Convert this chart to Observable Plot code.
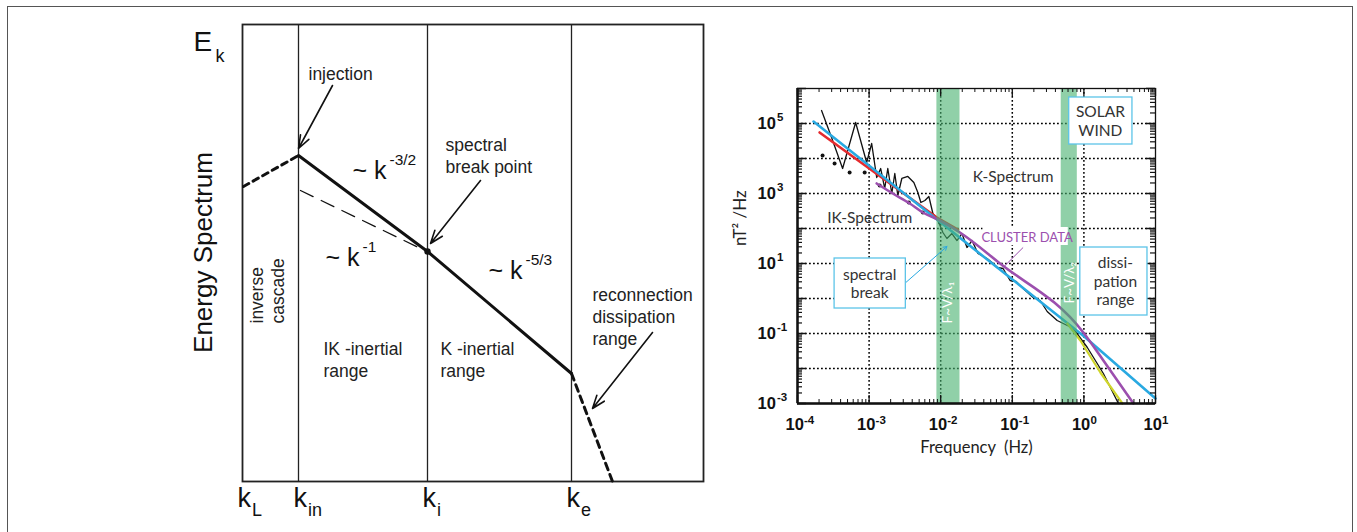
<!DOCTYPE html>
<html><head><meta charset="utf-8">
<script src="https://cdn.jsdelivr.net/npm/d3@7"></script>
<script src="https://cdn.jsdelivr.net/npm/@observablehq/plot@0.6"></script>
<style>
body{margin:0;background:#fff;}
#wrap{position:relative;width:1357px;height:532px;overflow:hidden;background:#fff;}
#border{position:absolute;left:7px;top:6px;width:1346px;height:600px;border:1.5px solid #555;box-sizing:border-box;}
#left{position:absolute;left:0;top:0;}
#right{position:absolute;left:720px;top:0;}
</style></head><body>
<div id="wrap"><div id="border"></div><div id="left"></div><div id="right"></div></div>
<script>
// ---------------- LEFT PANEL (schematic, log k / log E arbitrary units) ----------------
const kLabels = ["L", "in", "i", "e"];
const kPos = [0, 5.6, 18.5, 32.9];
const spectrum = [{k: 5.6, E: 32.6}, {k: 18.5, E: 23.0}, {k: 32.9, E: 10.8}];
const inverseCascade = [{k: 0.1, E: 29.5}, {k: 5.6, E: 32.6}];
const kMinus1 = [{k: 5.8, E: 29.1}, {k: 17.6, E: 23.4}];
const dissipation = [{k: 32.9, E: 10.8}, {k: 37.0, E: 0}];
const breakPoint = [{k: 18.5, E: 23.0}];
const leftLabels = [
  {k: 6.6, E: 40.9, text: "injection"},
  {k: 20.3, E: 32.7, text: "spectral\nbreak point"},
  {k: 8.1, E: 12.25, text: "IK -inertial\nrange"},
  {k: 19.8, E: 12.25, text: "K -inertial\nrange"},
  {k: 35.0, E: 16.6, text: "reconnection\ndissipation\nrange"}
];
const rotLabels = [{k: 1.5, E: 15.8, text: "inverse"}, {k: 3.6, E: 15.8, text: "cascade"}];
const slopeLabels = [
  {k: 11.0, E: 31.1, sup: "-3/2"},
  {k: 8.3, E: 22.4, sup: "-1"},
  {k: 24.6, E: 21.1, sup: "-5/3"}
];
const leftArrows = [
  {k1: 9.0, E1: 39.6, k2: 5.6, E2: 33.3},
  {k1: 23.8, E1: 30.1, k2: 18.8, E2: 23.8},
  {k1: 41.0, E1: 14.9, k2: 35.0, E2: 7.3}
];

const FL = "'Liberation Sans', Arial, Helvetica, sans-serif";
const left = Plot.plot({
  width: 720, height: 532,
  marginLeft: 242, marginTop: 24, marginRight: 17, marginBottom: 51,
  x: {domain: [0, 46.1], axis: null},
  y: {domain: [0, 45.7], axis: null},
  style: {fontFamily: FL, background: "transparent", color: "#222"},
  marks: [
    Plot.ruleX(kPos.slice(1), {stroke: "#222", strokeWidth: 1.3}),
    Plot.frame({stroke: "#222", strokeWidth: 1.8}),
    Plot.line(inverseCascade, {x: "k", y: "E", stroke: "#111", strokeWidth: 3, strokeDasharray: "6,5"}),
    Plot.line(kMinus1, {x: "k", y: "E", stroke: "#111", strokeWidth: 1.3, strokeDasharray: "14,9"}),
    Plot.line(spectrum, {x: "k", y: "E", stroke: "#111", strokeWidth: 3}),
    Plot.line(dissipation, {x: "k", y: "E", stroke: "#111", strokeWidth: 3, strokeDasharray: "7,5"}),
    Plot.dot(breakPoint, {x: "k", y: "E", r: 3.2, fill: "#111"}),
    Plot.arrow(leftArrows, {x1: "k1", y1: "E1", x2: "k2", y2: "E2", stroke: "#111", strokeWidth: 1.6, headLength: 13, headAngle: 40}),
    Plot.text(leftLabels, {x: "k", y: "E", text: "text", textAnchor: "start", fontSize: 17.5, lineHeight: 1.257, fill: "#222"}),
    Plot.text(rotLabels, {x: "k", y: "E", text: "text", textAnchor: "start", rotate: -90, fontSize: 17.5, fill: "#222"}),
    Plot.text(slopeLabels, {x: "k", y: "E", text: () => "~ k", textAnchor: "start", fontSize: 25, fill: "#111"}),
    Plot.text(slopeLabels, {x: "k", y: "E", text: "sup", textAnchor: "start", dx: 37, dy: -10, fontSize: 15.5, fill: "#111"}),
    // axis-like labels
    Plot.text(kPos, {x: d => d, frameAnchor: "bottom", dy: 25, dx: -5, text: () => "k", textAnchor: "start", fontSize: 27, fill: "#111"}),
    Plot.text(kLabels, {x: (d, i) => kPos[i], frameAnchor: "bottom", dy: 34, dx: 9.5, text: d => d, textAnchor: "start", fontSize: 18, fill: "#111"}),
    Plot.text(["E"], {x: -4.9, y: 43.9, text: d => d, textAnchor: "start", fontSize: 28, fill: "#111"}),
    Plot.text(["k"], {x: -2.7, y: 42.5, text: d => d, textAnchor: "start", fontSize: 18, fill: "#111"}),
    Plot.text(["Energy Spectrum"], {x: -3.9, y: 22.9, text: d => d, rotate: -90, fontSize: 26, fill: "#111"})
  ]
});
document.getElementById("left").appendChild(left);

// ---------------- RIGHT PANEL (log-log spectrum) ----------------
const xDecades = [-4, -3, -2, -1, 0, 1];
const yLabelExps = [5, 3, 1, -1, -3];
const xGrid = [1e-3, 1e-2, 1e-1, 1];
const yGrid = [1e-2, 1e-1, 1, 1e1, 1e2, 1e3, 1e4, 1e5];
const minorMult = [2, 3, 4, 5, 6, 7, 8, 9];

// curves: [log10 f, log10 P]
const blueFit = [[-3.776, 5.057], [-2.0, 2.17], [0.0, -1.08], [1.0, -2.857]];
const redFit = [[-3.692, 4.743], [-2.053, 2.314], [-1.759, 1.971]];
const clusterFit = [[-2.894, 3.286], [-2.669, 3.0], [-2.431, 2.714], [-2.249, 2.457], [-2.011, 2.229],
  [-1.731, 1.886], [-1.171, 1.0], [-0.008, -0.971], [0.272, -1.771], [0.692, -3.0]];
const dissipFit = [[-0.232, -0.714], [-0.05, -1.2], [0.23, -2.114], [0.538, -3.0]];
const spectrumData = [[-3.664, 5.371], [-3.524, 4.6], [-3.370, 3.714], [-3.188, 5.029], [-3.034, 3.886],
  [-2.964, 4.429], [-2.894, 3.457], [-2.838, 3.714], [-2.782, 3.143], [-2.739, 3.714], [-2.683, 3.0],
  [-2.641, 3.571], [-2.599, 2.943], [-2.543, 3.429], [-2.459, 3.486], [-2.375, 3.314], [-2.319, 3.029],
  [-2.277, 2.743], [-2.221, 2.8], [-2.165, 2.914], [-2.109, 2.429], [-2.039, 2.229], [-1.969, 1.886],
  [-1.913, 1.714], [-1.843, 1.857], [-1.773, 1.657], [-1.703, 1.857], [-1.633, 1.457], [-1.563, 1.657],
  [-1.479, 1.286], [-1.353, 1.143], [-1.283, 1.029], [-1.213, 0.886], [-1.129, 0.857], [-1.031, 0.514],
  [-0.947, 0.486], [-0.849, 0.286], [-0.709, 0.029], [-0.611, -0.057], [-0.513, -0.371], [-0.373, -0.629],
  [-0.232, -0.771], [-0.148, -0.857], [0.048, -1.4], [0.272, -2.143], [0.482, -3.0]];
const spectrumDots = [[-3.650, 4.086], [-3.482, 3.857], [-3.272, 3.6], [-3.062, 3.6], [-2.852, 3.229],
  [-2.445, 2.743], [-2.249, 2.457], [-2.011, 2.171]];
const bands = [
  {lo: 0.00885, hi: 0.0186, label: "F~V/λ\u2081", lx: -1.899, ly: -0.714},
  {lo: 0.482, hi: 0.809, label: "F~V/λ\u2082", lx: -0.205, ly: -0.143}
];
const boxes = [
  {lx1: -0.205, lx2: 0.678, ly1: 4.40, ly2: 5.743},
  {lx1: -3.482, lx2: -2.487, ly1: -0.286, ly2: 1.143},
  {lx1: -0.050, lx2: 0.888, ly1: -0.486, ly2: 1.457}
];
const rightLabels = [
  {lx: 0.23, ly: 5.10, text: "SOLAR\nWIND"},
  {lx: -0.989, ly: 3.514, text: "K-Spectrum"},
  {lx: -2.992, ly: 2.343, text: "IK-Spectrum"},
  {lx: -2.992, ly: 0.443, text: "spectral\nbreak"},
  {lx: 0.44, ly: 0.514, text: "dissi-\npation\nrange"}
];
const clusterLabel = [{lx: -0.793, ly: 1.743, text: "CLUSTER DATA", lx1: -1.409, lx2: -0.218, ly1: 1.514, ly2: 2.029}];
const clusterPointer = [{lx1: -0.849, ly1: 1.457, lx2: -1.115, ly2: 0.914}];
const breakPointer = [{lx1: -2.487, ly1: 0.457, lx2: -1.913, ly2: 1.486}];

const P = v => 10 ** v;
const xMinor = [], yMinor = [];
for (let d = -4; d < 1; d++) for (const m of minorMult) xMinor.push(m * 10 ** d);
for (let d = -3; d < 6; d++) for (const m of minorMult) yMinor.push(m * 10 ** d);
const xMajor = xDecades.map(P);
const yMajor = d3.range(-3, 7).map(P);
const PW = 358, PH = 315;
const FR = "Lato, 'Open Sans', sans-serif";
const BLUE = "#29a9e1", RED = "#e52a2e", PURPLE = "#9c4fae", YEL = "#cfd52b", CYANBOX = "#5cc4e8";

const right = Plot.plot({
  width: 637, height: 532,
  marginLeft: 77, marginTop: 88, marginRight: 202, marginBottom: 129,
  x: {type: "log", domain: [1e-4, 10], axis: null},
  y: {type: "log", domain: [1e-3, 1e6], axis: null},
  style: {fontFamily: FL, background: "transparent", color: "#111"},
  marks: [
    Plot.ruleX(xGrid, {stroke: "#000", strokeWidth: 1.5, strokeDasharray: "1.8,2.2"}),
    Plot.ruleY(yGrid, {stroke: "#000", strokeWidth: 1.5, strokeDasharray: "1.8,2.2"}),
    Plot.line(spectrumData, {x: d => P(d[0]), y: d => P(d[1]), stroke: "#111", strokeWidth: 1.3}),
    Plot.dot(spectrumDots, {x: d => P(d[0]), y: d => P(d[1]), r: 2, fill: "#111"}),
    Plot.line(redFit, {x: d => P(d[0]), y: d => P(d[1]), stroke: RED, strokeWidth: 2.6}),
    Plot.line(blueFit, {x: d => P(d[0]), y: d => P(d[1]), stroke: BLUE, strokeWidth: 2.6}),
    Plot.line(clusterFit, {x: d => P(d[0]), y: d => P(d[1]), stroke: PURPLE, strokeWidth: 2.6, curve: "monotone-x"}),
    Plot.line(dissipFit, {x: d => P(d[0]), y: d => P(d[1]), stroke: YEL, strokeWidth: 2.2}),
    Plot.rect(bands, {x1: "lo", x2: "hi", fill: "rgb(70,177,110)", fillOpacity: 0.6}),
    Plot.text(bands, {x: d => P(d.lx), y: d => P(d.ly), text: "label", rotate: -90, textAnchor: "start", fill: "white", fontSize: 13.5, fontFamily: FR}),
    // frame & ticks
    Plot.frame({stroke: "#111", strokeWidth: 1.3}),
    Plot.ruleX([1e-4], {stroke: "#111", strokeWidth: 2.5}),
    Plot.ruleY([1e-3], {stroke: "#111", strokeWidth: 2.5}),
    Plot.ruleX(xMinor, {stroke: "#111", strokeWidth: 1, insetTop: PH - 4}),
    Plot.ruleX(xMinor, {stroke: "#111", strokeWidth: 1, insetBottom: PH - 4}),
    Plot.ruleX(xMajor, {stroke: "#111", strokeWidth: 1.3, insetTop: PH - 8}),
    Plot.ruleX(xMajor, {stroke: "#111", strokeWidth: 1.3, insetBottom: PH - 8}),
    Plot.ruleY(yMinor, {stroke: "#111", strokeWidth: 1.2, insetRight: PW - 5}),
    Plot.ruleY(yMinor, {stroke: "#111", strokeWidth: 1.2, insetLeft: PW - 5}),
    Plot.ruleY(yMajor, {stroke: "#111", strokeWidth: 1.5, insetRight: PW - 9}),
    Plot.ruleY(yMajor, {stroke: "#111", strokeWidth: 1.5, insetLeft: PW - 9}),
    // tick labels
    Plot.text(xDecades, {x: P, frameAnchor: "bottom", dy: 26, dx: -12, text: () => "10", textAnchor: "start", fontSize: 16.5, fontWeight: "bold"}),
    Plot.text(xDecades, {x: P, frameAnchor: "bottom", dy: 20, dx: 6.5, text: d => String(d), textAnchor: "start", fontSize: 11.5, fontWeight: "bold"}),
    Plot.text(yLabelExps, {y: P, frameAnchor: "left", dx: -40, text: () => "10", textAnchor: "start", fontSize: 16.5, fontWeight: "bold"}),
    Plot.text(yLabelExps, {y: P, frameAnchor: "left", dx: -20.5, dy: -6, text: d => String(d), textAnchor: "start", fontSize: 11.5, fontWeight: "bold"}),
    Plot.text(["Frequency  (Hz)"], {frameAnchor: "bottom", dy: 49, text: d => d, fontSize: 16.5, fontFamily: FR, fill: "#222"}),
    Plot.text(["nT\u00b2 /Hz"], {frameAnchor: "left", dx: -57, rotate: -90, text: d => d, fontSize: 17, fontFamily: FR, fill: "#222"}),
    // annotations
    Plot.arrow(breakPointer, {x1: d => P(d.lx1), y1: d => P(d.ly1), x2: d => P(d.lx2), y2: d => P(d.ly2), stroke: BLUE, strokeWidth: 1, headLength: 6}),
    Plot.link(clusterPointer, {x1: d => P(d.lx1), y1: d => P(d.ly1), x2: d => P(d.lx2), y2: d => P(d.ly2), stroke: PURPLE, strokeWidth: 1}),
    Plot.rect(boxes, {x1: d => P(d.lx1), x2: d => P(d.lx2), y1: d => P(d.ly1), y2: d => P(d.ly2), fill: "white", stroke: CYANBOX, strokeWidth: 1.3}),
    Plot.rect(clusterLabel, {x1: d => P(d.lx1), x2: d => P(d.lx2), y1: d => P(d.ly1), y2: d => P(d.ly2), fill: "white"}),
    Plot.text(clusterLabel, {x: d => P(d.lx), y: d => P(d.ly), text: "text", fill: PURPLE, fontSize: 13, fontFamily: FR}),
    Plot.text(rightLabels, {x: d => P(d.lx), y: d => P(d.ly), text: "text", fill: "#333", fontSize: 15.5, lineHeight: 1.22, fontFamily: FR})
  ]
});
document.getElementById("right").appendChild(right);
</script></body></html>
